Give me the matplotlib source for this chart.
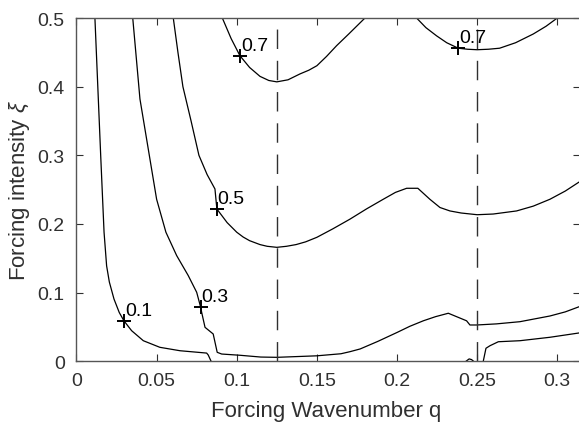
import matplotlib
matplotlib.use("Agg")
import matplotlib.pyplot as plt

plt.rcParams['font.family'] = ['Liberation Sans', 'DejaVu Sans']
plt.rcParams['mathtext.fontset'] = 'custom'
plt.rcParams['mathtext.it'] = 'Liberation Sans:italic'
plt.rcParams['mathtext.rm'] = 'Liberation Sans'

# ---- data ----
# contour "0.1" (left branch)
c1a_x = [0.0115, 0.0133, 0.0151, 0.0163, 0.0172, 0.0188, 0.0205, 0.0234, 0.0267, 0.0296,
         0.0344, 0.0417, 0.0520, 0.0646, 0.0812, 0.0822, 0.0840]
c1a_y = [0.500, 0.400, 0.300, 0.236, 0.188, 0.139, 0.1155, 0.0907, 0.071, 0.059,
         0.0446, 0.030, 0.0204, 0.0154, 0.0120, 0.0092, 0.0]
# contour "0.1" (right branch)
c1b_x = [0.2538, 0.2555, 0.2580, 0.2632, 0.2767, 0.2954, 0.3142]
c1b_y = [0.0, 0.019, 0.0227, 0.0285, 0.030, 0.035, 0.0415]
# tiny closed piece near q = 0.245
c1c_x = [0.2430, 0.2450, 0.2465, 0.2478]
c1c_y = [0.0, 0.0035, 0.0025, 0.0]
# contour "0.3"
c3_x = [0.0351, 0.0396, 0.0448, 0.0500, 0.0558, 0.0625, 0.0697, 0.0750, 0.0775, 0.0781,
        0.0802, 0.0853, 0.0878, 0.0906, 0.1020, 0.1150, 0.1250, 0.1500, 0.1650, 0.1706,
        0.1770, 0.1880, 0.2000, 0.2080, 0.2164, 0.2240, 0.2320, 0.2434, 0.2455, 0.2497,
        0.2620, 0.2767, 0.2954, 0.3050, 0.3142]
c3_y = [0.500, 0.382, 0.309, 0.236, 0.188, 0.154, 0.125, 0.1005, 0.0786, 0.0714,
        0.0495, 0.0398, 0.0131, 0.0106, 0.0088, 0.0062, 0.0058, 0.0080, 0.0110, 0.0140,
        0.0180, 0.0290, 0.0420, 0.0510, 0.0590, 0.0650, 0.0700, 0.0590, 0.0529, 0.0529,
        0.0545, 0.0577, 0.0660, 0.0720, 0.0800]
# contour "0.5"
c5_x = [0.0604, 0.0633, 0.0664, 0.0715, 0.0764, 0.0815, 0.0864, 0.0876, 0.0940, 0.1000,
        0.1040, 0.1080, 0.1145, 0.1190, 0.1250, 0.1310, 0.1370, 0.1430, 0.1500, 0.1600,
        0.1706, 0.1810, 0.1914, 0.1990, 0.2060, 0.2130, 0.2205, 0.2268, 0.2330, 0.2400,
        0.2500, 0.2600, 0.2746, 0.2850, 0.2954, 0.3050, 0.3142]
c5_y = [0.500, 0.450, 0.400, 0.350, 0.300, 0.272, 0.251, 0.2218, 0.202, 0.188,
        0.181, 0.1757, 0.170, 0.1675, 0.166, 0.1675, 0.170, 0.174, 0.1806, 0.193,
        0.207, 0.222, 0.236, 0.246, 0.252, 0.252, 0.236, 0.224, 0.219, 0.216,
        0.2135, 0.2145, 0.219, 0.226, 0.236, 0.248, 0.262]
# contour "0.7" (left)
c7a_x = [0.0910, 0.0965, 0.1020, 0.1080, 0.1145, 0.1200, 0.1250, 0.1320, 0.1394, 0.1450,
         0.1500, 0.1560, 0.1623, 0.1700, 0.1800]
c7a_y = [0.500, 0.470, 0.445, 0.428, 0.415, 0.409, 0.407, 0.410, 0.4185, 0.424,
         0.4305, 0.444, 0.4597, 0.477, 0.500]
# contour "0.7" (right)
c7b_x = [0.2122, 0.2180, 0.2247, 0.2310, 0.2382, 0.2440, 0.2500, 0.2570, 0.2640, 0.2740,
         0.2850, 0.2930, 0.3000]
c7b_y = [0.500, 0.486, 0.474, 0.464, 0.456, 0.4545, 0.4538, 0.4545, 0.456, 0.464,
         0.4767, 0.488, 0.500]

# contour labels
lab_text = ['0.1', '0.3', '0.5', '0.7', '0.7']
lab_x = [0.0296, 0.0775, 0.0876, 0.1020, 0.2382]
lab_y = [0.059, 0.0786, 0.2218, 0.445, 0.456]

# reference (dashed) wavenumbers
vlines_x = [0.125, 0.25]

x_ticks = [0, 0.05, 0.1, 0.15, 0.2, 0.25, 0.3]
x_ticklabels = ['0', '0.05', '0.1', '0.15', '0.2', '0.25', '0.3']
y_ticks = [0, 0.1, 0.2, 0.3, 0.4, 0.5]
y_ticklabels = ['0', '0.1', '0.2', '0.3', '0.4', '0.5']

# ---- figure ----
fig = plt.figure(figsize=(5.79, 4.27), dpi=100)
ax = fig.add_axes([0.1321, 0.1515, 1.0017 - 0.1321, 0.9555 - 0.1515])

lw = 0.9
for xs, ys in [(c1a_x, c1a_y), (c1b_x, c1b_y), (c1c_x, c1c_y), (c3_x, c3_y),
               (c5_x, c5_y), (c7a_x, c7a_y), (c7b_x, c7b_y)]:
    ax.plot(xs, ys, color='black', lw=lw, solid_joinstyle='round')

for xv in vlines_x:
    ax.plot([xv, xv], [0, 0.5], color='#303030', lw=1.0, dashes=(14, 8.5))

ax.plot(lab_x, lab_y, linestyle='none', marker='+', color='black', ms=10, mew=1.4)
for t, x, y in zip(lab_text, lab_x, lab_y):
    ax.annotate(t, (x, y), xytext=(0.6, 4.5), textcoords='offset points',
                ha='left', va='baseline', fontsize=14, color='black')

ax.set_xlim(0, 0.31416)
ax.set_ylim(0, 0.5)
ax.set_xticks(x_ticks)
ax.set_xticklabels(x_ticklabels)
ax.set_yticks(y_ticks)
ax.set_yticklabels(y_ticklabels)

gray = '#303030'
ax.tick_params(direction='in', length=5, width=0.8, colors=gray, labelsize=14,
               top=True, right=True)
ax.tick_params(axis='x', pad=8)
ax.tick_params(axis='y', pad=8.5)
for s in ax.spines.values():
    s.set_color('#555555')
    s.set_linewidth(1.0)

ax.set_xlabel('Forcing Wavenumber q', fontsize=16, color=gray)
ax.set_ylabel(r'Forcing intensity $\it{\xi}$', fontsize=16, color=gray)
ax.xaxis.set_label_coords(0.4955, -0.113)
ax.yaxis.set_label_coords(-0.088, 0.5)

fig.savefig('out.png', dpi=100)
